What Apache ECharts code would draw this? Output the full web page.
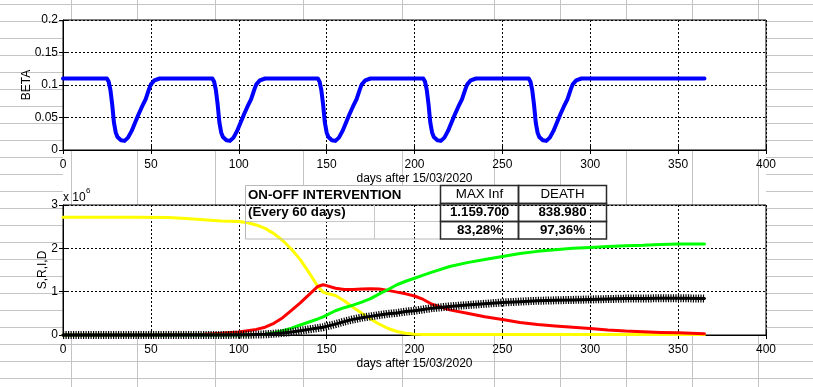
<!DOCTYPE html>
<html><head><meta charset="utf-8">
<script src="https://cdn.jsdelivr.net/npm/echarts@6/dist/echarts.min.js"></script>
<style>
html,body{margin:0;padding:0;background:#fff;}
#wrap{position:relative;width:813px;height:387px;overflow:hidden;background:#fff;}
#sheet{position:absolute;left:0;top:0;width:813px;height:387px;}
.vl{position:absolute;top:0;width:1px;height:387px;background:#c4c4c4;}
.hl{position:absolute;height:1px;background:#c4c4c4;}
#chart{position:absolute;left:0;top:0;width:813px;height:387px;}
</style></head><body>
<div id="wrap"><div id="sheet"></div><div id="chart"></div></div>
<script>
// ---------- DATA ----------
const xTicks = [0, 50, 100, 150, 200, 250, 300, 350, 400];
const betaTicks = [0, 0.05, 0.1, 0.15, 0.2];
const sridTicks = [0, 1, 2, 3]; // x 10^6

const betaDays = [0,
 25,26,27,28,29,30,31,33,35,36,37,39,41,43,45,47,49,50,52,55,
 85,86,87,88,89,90,91,93,95,96,97,99,101,103,105,107,109,110,112,115,
 145,146,147,148,149,150,151,153,155,156,157,159,161,163,165,167,169,170,172,175,
 205,206,207,208,209,210,211,213,215,216,217,219,221,223,225,227,229,230,232,235,
 265,266,267,268,269,270,271,273,275,276,277,279,281,283,285,287,289,290,292,295,
 365];
const betaValues = [0.110,
 0.110,0.105,0.092,0.070,0.042,0.027,0.020,0.015,0.014,0.015,0.019,0.029,0.042,0.055,0.067,0.078,0.094,0.101,0.107,0.110,
 0.110,0.105,0.092,0.070,0.042,0.027,0.020,0.015,0.014,0.015,0.019,0.029,0.042,0.055,0.067,0.078,0.094,0.101,0.107,0.110,
 0.110,0.105,0.092,0.070,0.042,0.027,0.020,0.015,0.014,0.015,0.019,0.029,0.042,0.055,0.067,0.078,0.094,0.101,0.107,0.110,
 0.110,0.105,0.092,0.070,0.042,0.027,0.020,0.015,0.014,0.015,0.019,0.029,0.042,0.055,0.067,0.078,0.094,0.101,0.107,0.110,
 0.110,0.105,0.092,0.070,0.042,0.027,0.020,0.015,0.014,0.015,0.019,0.029,0.042,0.055,0.067,0.078,0.094,0.101,0.107,0.110,
 0.110];

const days = [0,20,40,60,70,80,90,100,105,110,115,120,125,130,135,140,145,148,150,155,160,165,170,175,180,185,190,195,200,205,210,220,230,240,250,260,270,280,290,300,310,320,330,340,350,365];
// millions
const S = [2.72,2.72,2.72,2.71,2.69,2.66,2.63,2.62,2.59,2.54,2.46,2.34,2.18,1.98,1.74,1.44,1.12,0.99,0.96,0.91,0.79,0.64,0.50,0.37,0.25,0.15,0.08,0.04,0.02,0.01,0.01,0.01,0.01,0.01,0.01,0.01,0.01,0.01,0.01,0.01,0.01,0.01,0.01,0.01,0.01,0.01];
const I = [0,0,0,0.005,0.01,0.02,0.04,0.07,0.10,0.13,0.18,0.27,0.40,0.57,0.74,0.93,1.12,1.16,1.14,1.08,1.05,1.05,1.06,1.07,1.06,1.03,0.99,0.95,0.90,0.82,0.71,0.58,0.50,0.42,0.36,0.29,0.24,0.21,0.18,0.15,0.115,0.09,0.075,0.06,0.05,0.03];
const R = [0,0,0,0,0,0,0,0,0.005,0.01,0.02,0.05,0.10,0.16,0.23,0.30,0.37,0.42,0.46,0.56,0.63,0.69,0.76,0.84,0.95,1.05,1.16,1.24,1.31,1.38,1.45,1.58,1.67,1.74,1.81,1.88,1.93,1.97,2.00,2.02,2.04,2.06,2.07,2.09,2.10,2.10];
const D = [0,0,0,0,0,0,0,0.005,0.005,0.01,0.015,0.03,0.045,0.07,0.10,0.13,0.16,0.18,0.20,0.25,0.31,0.36,0.40,0.43,0.46,0.49,0.51,0.54,0.56,0.59,0.62,0.66,0.69,0.72,0.75,0.77,0.79,0.80,0.81,0.82,0.83,0.84,0.84,0.85,0.85,0.84];

const tableTitle = ['ON-OFF INTERVENTION', '(Every 60 days)'];
const tableHead = ['MAX Inf', 'DEATH'];
const tableRows = [['1.159.700', '838.980'], ['83,28%', '97,36%']];

// ---------- spreadsheet background ----------
const sheet = document.getElementById('sheet');
const colLines = [71, 137, 215, 303, 402, 494, 560, 626, 692, 758];
colLines.forEach(x => { const d = document.createElement('div'); d.className='vl'; d.style.left = x+'px'; sheet.appendChild(d); });
for (let y = 4; y < 387; y += 17) {
  if (y > 150 && y < 205) {
    [[0, 63], [766, 813]].forEach(([a, b]) => { const d = document.createElement('div'); d.className='hl'; d.style.top=y+'px'; d.style.left=a+'px'; d.style.width=(b-a)+'px'; sheet.appendChild(d); });
  } else {
    const d = document.createElement('div'); d.className='hl'; d.style.top=y+'px'; d.style.left='0px'; d.style.width='813px'; sheet.appendChild(d);
  }
}

// ---------- chart ----------
const FONT = "'Liberation Sans', Arial, sans-serif";
const txt = {fontFamily: FONT, fontSize: 12, color: '#000'};
const pairs = (xs, ys) => xs.map((x, i) => [x, ys[i]]);

function xAx(grid, pos, labelMargin) {
  const main = pos === 'bottom';
  return {
    type: 'value', gridIndex: grid, position: pos, min: xTicks[0], max: xTicks[xTicks.length-1], interval: xTicks[1]-xTicks[0],
    axisLine: {show: main, lineStyle: {color: '#000', width: 1}},
    axisTick: {show: true, inside: true, length: 4, lineStyle: {color: '#000'}},
    axisLabel: {show: main, ...txt, margin: labelMargin || 9, showMinLabel: true, showMaxLabel: true, hideOverlap: false},
    splitLine: {show: main, lineStyle: {color: '#000', type: [2, 2], width: 1}},
    name: main ? 'days after 15/03/2020' : '', nameLocation: 'middle', nameGap: 23, nameTextStyle: txt,
    nameMoveOverlap: false
  };
}
function yAx(grid, pos, ticks, name, gap, fmt) {
  const main = pos === 'left';
  return {
    type: 'value', gridIndex: grid, position: pos, min: ticks[0], max: ticks[ticks.length-1], interval: ticks[1]-ticks[0],
    axisLine: {show: main, lineStyle: {color: '#000', width: 1}},
    axisTick: {show: true, inside: true, length: 4, lineStyle: {color: '#000'}},
    axisLabel: {show: main, ...txt, margin: 5, formatter: fmt, showMinLabel: true, showMaxLabel: true, hideOverlap: false},
    splitLine: {show: main, lineStyle: {color: '#000', type: [2, 2], width: 1}},
    name: main ? name : '', nameLocation: 'middle', nameGap: gap, nameTextStyle: txt,
    nameMoveOverlap: false
  };
}
const fmtBeta = v => String(+(+v).toFixed(2));
const fmtM = v => String(Math.round(v));

const tx = [440.5, 518.5, 606.5];
const ty = [185.5, 203.5, 221.5, 239];
const graphics = [];
graphics.push({type: 'rect', shape: {x: 245, y: 185, width: 362, height: 19.5}, style: {fill: '#fff'}, z: -5, silent: true});
graphics.push({type: 'rect', shape: {x: 245.5, y: 185.5, width: 195, height: 53.5}, style: {fill: null, stroke: '#b8b8b8', lineWidth: 1}, z: 50});
graphics.push({type: 'line', shape: {x1: 245.5, y1: 221.5, x2: 440.5, y2: 221.5}, style: {stroke: '#c8c8c8', lineWidth: 1}, z: 50});
graphics.push({type: 'line', shape: {x1: 374.5, y1: 205, x2: 374.5, y2: 239}, style: {stroke: '#c8c8c8', lineWidth: 1}, z: 50});
for (let r = 0; r < 3; r++) for (let c = 0; c < 2; c++) {
  graphics.push({type: 'rect', shape: {x: tx[c], y: ty[r], width: tx[c+1]-tx[c], height: ty[r+1]-ty[r]}, style: {fill: null, stroke: '#2a2a2a', lineWidth: 1.5}, z: 51});
}
const TF = "'Liberation Sans', Arial, sans-serif";
graphics.push({type: 'text', x: 248, y: 195, style: {text: tableTitle[0], font: "bold 13.3px " + TF, fill: '#000', verticalAlign: 'middle', align: 'left'}, z: 52});
graphics.push({type: 'text', x: 248, y: 212.5, style: {text: tableTitle[1], font: "bold 13.3px " + TF, fill: '#000', verticalAlign: 'middle', align: 'left'}, z: 52});
for (let c = 0; c < 2; c++) {
  const cx = (tx[c] + tx[c+1]) / 2;
  graphics.push({type: 'text', x: cx, y: (ty[0]+ty[1])/2, style: {text: tableHead[c], font: "13.3px " + TF, fill: '#000', align: 'center', verticalAlign: 'middle'}, z: 52});
  for (let r = 0; r < 2; r++) {
    graphics.push({type: 'text', x: cx, y: (ty[r+1]+ty[r+2])/2, style: {text: tableRows[r][c], font: "bold 13.3px " + TF, fill: '#000', align: 'center', verticalAlign: 'middle'}, z: 52});
  }
}
graphics.push({type: 'text', x: 63, y: 197.5, style: {text: 'x 10', font: "12px " + TF, fill: '#000', verticalAlign: 'middle', align: 'left'}, z: 52});
graphics.push({type: 'text', x: 86, y: 191, style: {text: '6', font: "8px " + TF, fill: '#000', verticalAlign: 'middle', align: 'left'}, z: 52});

const chart = echarts.init(document.getElementById('chart'), null, {renderer: 'canvas'});
const lineS = (name, xi, data, color, width, extra) => Object.assign({
  name, type: 'line', xAxisIndex: xi, yAxisIndex: xi, data, showSymbol: false, symbol: 'none', smooth: false,
  lineStyle: {color, width, join: 'round', cap: 'round'}, itemStyle: {color}, animation: false, clip: false, silent: true
}, extra || {});

chart.setOption({
  animation: false,
  backgroundColor: 'transparent',
  grid: [
    {left: 63, top: 20, width: 703, height: 130, show: true, backgroundColor: '#fff', borderColor: '#000', borderWidth: 1},
    {left: 63, top: 205, width: 703, height: 130, show: true, backgroundColor: '#fff', borderColor: '#000', borderWidth: 1}
  ],
  xAxis: [xAx(0, 'bottom', 9), xAx(1, 'bottom', 8.5), xAx(0, 'top'), xAx(1, 'top')],
  yAxis: [yAx(0, 'left', betaTicks, 'BETA', 30, fmtBeta), yAx(1, 'left', sridTicks, 'S,R,I,D', 14, fmtM),
          yAx(0, 'right', betaTicks, '', 0, fmtBeta), yAx(1, 'right', sridTicks, '', 0, fmtM)],
  series: [
    lineS('BETA', 0, pairs(betaDays, betaValues), '#0000ff', 4),
    lineS('S', 1, pairs(days, S), '#ffff00', 3),
    lineS('I', 1, pairs(days, I), '#ff0000', 3),
    lineS('R', 1, pairs(days, R), '#00ff00', 3),
    lineS('D', 1, pairs(days, D), '#000000', 3),
    lineS('D+', 1, pairs(days, D), '#000000', 8, {lineStyle: {color: '#000', width: 8, type: [1.2, 1.3], cap: 'butt'}})
  ],
  graphic: {elements: graphics}
});
</script>
</body></html>
